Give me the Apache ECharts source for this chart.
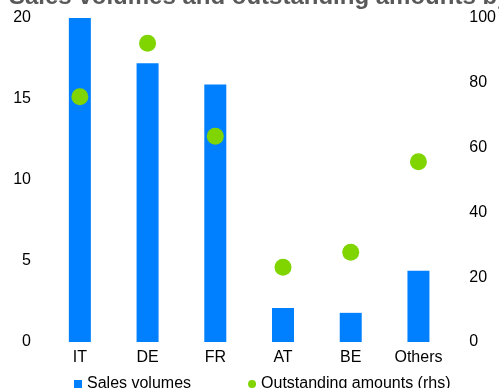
<!DOCTYPE html>
<html>
<head>
<meta charset="utf-8">
<script src="https://cdn.jsdelivr.net/npm/echarts@6/dist/echarts.min.js"></script>
<style>
html,body{margin:0;padding:0;background:#fff;}
#chart{width:499px;height:388px;}
</style>
</head>
<body>
<div id="chart"></div>
<script>
const titleText = 'Sales volumes and outstanding amounts by country';
const categories = ['IT', 'DE', 'FR', 'AT', 'BE', 'Others'];
const salesVolumes = [20.0, 17.2, 15.9, 2.1, 1.8, 4.4];
const outstandingAmounts = [75.7, 92.2, 63.5, 23.1, 27.7, 55.6];
const seriesNames = ['Sales volumes', 'Outstanding amounts (rhs)'];

const font = 'Arial, "Liberation Sans", sans-serif';
const chart = echarts.init(document.getElementById('chart'));
chart.setOption({
  animation: false,
  backgroundColor: '#ffffff',
  title: {
    text: titleText,
    left: 4,
    top: -20,
    padding: 5,
    textStyle: { fontFamily: font, fontSize: 24, fontWeight: 'bold', color: '#595959' }
  },
  legend: {
    left: 69,
    top: 371,
    itemWidth: 8,
    itemHeight: 8,
    itemGap: 57,
    textStyle: { fontFamily: font, fontSize: 16, color: '#000' },
    data: [
      { name: seriesNames[0], icon: 'rect' },
      { name: seriesNames[1], icon: 'circle' }
    ]
  },
  grid: { left: 46, right: 43, top: 18, bottom: 46 },
  xAxis: {
    type: 'category',
    data: categories,
    axisLine: { show: false },
    axisTick: { show: false },
    axisLabel: { fontFamily: font, fontSize: 16, color: '#000', margin: 8 }
  },
  yAxis: [
    {
      type: 'value', min: 0, max: 20, interval: 5,
      axisLine: { show: false }, axisTick: { show: false }, splitLine: { show: false },
      axisLabel: { fontFamily: font, fontSize: 16, color: '#000', margin: 15 }
    },
    {
      type: 'value', min: 0, max: 100, interval: 20, position: 'right',
      axisLine: { show: false }, axisTick: { show: false }, splitLine: { show: false },
      axisLabel: { fontFamily: font, fontSize: 16, color: '#000', margin: 17 }
    }
  ],
  series: [
    {
      name: seriesNames[0], type: 'bar', yAxisIndex: 0, data: salesVolumes,
      barWidth: 22, itemStyle: { color: '#0080ff' }
    },
    {
      name: seriesNames[1], type: 'scatter', yAxisIndex: 1, data: outstandingAmounts,
      symbol: 'circle', symbolSize: 17, itemStyle: { color: '#80d400', opacity: 1 }
    }
  ]
});
</script>
</body>
</html>
